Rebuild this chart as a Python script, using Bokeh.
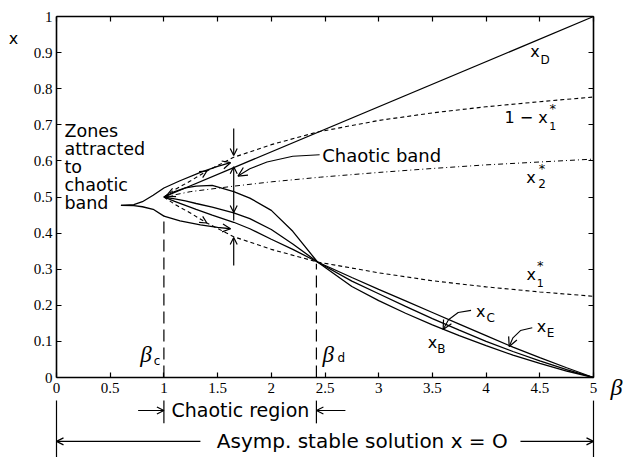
from bokeh.plotting import figure
from bokeh.models import Range1d, LinearAxis, FixedTicker, Label, Arrow, OpenHead
from bokeh.embed import file_html
from bokeh.resources import INLINE

# ---------------- data ----------------
x_ticks = [0, 0.5, 1, 1.5, 2, 2.5, 3, 3.5, 4, 4.5, 5]
x_tick_labels = ["0", "0.5", "1", "1.5", "2", "2.5", "3", "3.5", "4", "4.5", "5"]
y_ticks = [0, 0.1, 0.2, 0.3, 0.4, 0.5, 0.6, 0.7, 0.8, 0.9, 1.0]
y_tick_labels = ["0", "0.1", "0.2", "0.3", "0.4", "0.5", "0.6", "0.7", "0.8", "0.9", "1"]

beta_D = [1.0, 5.0]
x_D = [0.5, 1.0]

beta_star = [1.0, 1.1, 1.25, 1.4, 1.65, 2.0, 2.43, 3.0, 3.5, 4.0, 4.5, 5.0]
one_minus_x1 = [0.5, 0.52, 0.545, 0.572, 0.61, 0.645, 0.68, 0.712, 0.733, 0.75, 0.764, 0.777]
x1_star = [0.5, 0.48, 0.455, 0.428, 0.39, 0.355, 0.32, 0.29, 0.268, 0.251, 0.237, 0.225]

beta_x2 = [1.0, 1.25, 1.65, 2.0, 2.46, 3.0, 3.5, 4.0, 4.5, 5.0]
x2_star = [0.5, 0.515, 0.53, 0.542, 0.555, 0.568, 0.579, 0.589, 0.597, 0.605]

beta_BCE = [1.0, 1.1, 1.2, 1.3, 1.45, 1.65, 1.8, 2.0, 2.2, 2.43,
            2.75, 3.0, 3.25, 3.5, 3.75, 4.0, 4.25, 4.5, 4.75, 5.0]
x_B = [0.5, 0.515, 0.525, 0.53, 0.532, 0.515, 0.497, 0.463, 0.405, 0.32,
       0.252, 0.213, 0.178, 0.146, 0.116, 0.088, 0.062, 0.039, 0.018, 0.0]
x_C = [0.5, 0.495, 0.489, 0.482, 0.472, 0.456, 0.44, 0.41, 0.37, 0.32,
       0.267, 0.232, 0.197, 0.163, 0.131, 0.1, 0.072, 0.046, 0.022, 0.0]
x_E = [0.5, 0.488, 0.477, 0.466, 0.45, 0.43, 0.412, 0.383, 0.355, 0.32,
       0.277, 0.244, 0.212, 0.18, 0.148, 0.116, 0.084, 0.055, 0.027, 0.0]

beta_zone = [0.6, 0.72, 0.8, 0.9, 1.0, 1.15, 1.34, 1.5, 1.62]
zone_upper = [0.477, 0.479, 0.487, 0.505, 0.525, 0.545, 0.568, 0.585, 0.595]
zone_lower = [0.477, 0.476, 0.473, 0.466, 0.447, 0.434, 0.423, 0.416, 0.412]

beta_c = 1.0
beta_d = 2.42
beta_c_top = 0.45
beta_d_top = 0.315

band_beta = 1.65
band_top_arrow = [0.69, 0.615]
band_double = [0.435, 0.584]
band_inner_arrow = [0.5, 0.457]
band_bottom_arrow = [0.31, 0.388]

leader_band_beta = [2.45, 2.2, 1.96, 1.8, 1.69]
leader_band_x = [0.617, 0.613, 0.597, 0.578, 0.558]
leader_C_beta = [3.86, 3.74, 3.65, 3.6]
leader_C_x = [0.186, 0.18, 0.16, 0.133]
leader_E_beta = [4.43, 4.32, 4.25, 4.215]
leader_E_x = [0.138, 0.13, 0.11, 0.086]

# levels of the bracket rows below the axis (data units of x)
row_top = -0.064
row1_bottom = -0.127
row1_y = -0.0914
row2_y = -0.177
row2_bottom = -0.23

INK = "black"
SANS = "DejaVu Sans"
SERIF = "Liberation Serif"

# whole canvas is the frame; axes are pinned with fixed_location
p = figure(width=623, height=457, output_backend="svg", toolbar_location=None,
           x_range=Range1d(-56 / 107.4, 5 + 30 / 107.4),
           y_range=Range1d(-80 / 361, 1 + 16 / 361),
           min_border=0, x_axis_location=None, y_axis_location=None)
p.grid.visible = False
p.outline_line_color = None
p.background_fill_color = "white"
p.border_fill_color = "white"

def make_axis(ticks, labels, show_labels, loc, bounds):
    ax = LinearAxis(ticker=FixedTicker(ticks=ticks), fixed_location=loc, bounds=bounds)
    ax.major_label_overrides = {t: (l if show_labels else "") for t, l in zip(ticks, labels)}
    ax.major_tick_in = 5
    ax.major_tick_out = 0
    ax.minor_tick_in = 0
    ax.minor_tick_out = 0
    ax.axis_line_color = INK
    ax.axis_line_width = 1.6
    ax.major_tick_line_color = INK
    ax.major_tick_line_width = 1.2
    ax.major_label_text_font = SERIF
    ax.major_label_text_font_size = "15px"
    ax.major_label_text_color = INK
    return ax

bx = make_axis(x_ticks, x_tick_labels, True, 0, (0, 5))
bx.major_label_standoff = 5
p.add_layout(bx, "below")
ly = make_axis(y_ticks, y_tick_labels, True, 0, (0, 1))
ly.major_label_standoff = 4
p.add_layout(ly, "left")
p.add_layout(make_axis(x_ticks, x_tick_labels, False, 1, (0, 5)), "above")
p.add_layout(make_axis(y_ticks, y_tick_labels, False, 5, (0, 1)), "right")

LW = 1.3
# curves
p.line(beta_D, x_D, line_color=INK, line_width=LW)
p.line(beta_star, one_minus_x1, line_color=INK, line_width=1.1, line_dash="4 3")
p.line(beta_star, x1_star, line_color=INK, line_width=1.1, line_dash="4 3")
p.line(beta_x2, x2_star, line_color=INK, line_width=1.0, line_dash="5 3 1 3")
p.line(beta_BCE, x_B, line_color=INK, line_width=LW)
p.line(beta_BCE, x_C, line_color=INK, line_width=LW)
p.line(beta_BCE, x_E, line_color=INK, line_width=LW)
p.line(beta_zone, zone_upper, line_color=INK, line_width=LW)
p.line(beta_zone, zone_lower, line_color=INK, line_width=LW)

# vertical dashed markers
p.line([beta_c, beta_c], [0, beta_c_top], line_color=INK, line_width=1.2, line_dash="12 6")
p.line([beta_d, beta_d], [0, beta_d_top], line_color=INK, line_width=1.2, line_dash="12 6")

# leaders
p.line(leader_band_beta, leader_band_x, line_color=INK, line_width=1.1)
p.line(leader_C_beta, leader_C_x, line_color=INK, line_width=1.1)
p.line(leader_E_beta, leader_E_x, line_color=INK, line_width=1.1)

def head(size=8):
    return OpenHead(size=size, line_color=INK, line_width=1.2)

def arrow(x0, y0, x1, y1, end=True, start=False, body=True, size=8):
    a = Arrow(x_start=x0, y_start=y0, x_end=x1, y_end=y1,
              end=head(size) if end else None,
              start=head(size) if start else None,
              line_color=INK, line_width=1.2, line_alpha=1.0 if body else 0.0)
    p.add_layout(a)

# leader arrowheads
arrow(leader_band_beta[-2], leader_band_x[-2], leader_band_beta[-1], leader_band_x[-1], body=False, size=9)
arrow(leader_C_beta[-2], leader_C_x[-2], leader_C_beta[-1], leader_C_x[-1], body=False, size=9)
arrow(leader_E_beta[-2], leader_E_x[-2], leader_E_beta[-1], leader_E_x[-1], body=False, size=9)

# arrowheads along zone curves and dashed curves
arrow(beta_zone[-2], zone_upper[-2], beta_zone[-1], zone_upper[-1], body=False, size=8)
arrow(beta_zone[-2], zone_lower[-2], beta_zone[-1], zone_lower[-1], body=False, size=8)
arrow(beta_star[2], one_minus_x1[2], beta_star[3], one_minus_x1[3], body=False, size=7)
arrow(beta_star[2], x1_star[2], beta_star[3], x1_star[3], body=False, size=7)
arrow(1.15, 0.519, beta_D[0] + 0.02, x_D[0] + 0.0025, body=False, size=9)

# chaotic band vertical arrows
arrow(band_beta, band_top_arrow[0], band_beta, band_top_arrow[1], size=7)
arrow(band_beta, band_double[0], band_beta, band_double[1], size=7)
arrow(band_beta, band_inner_arrow[0], band_beta, band_inner_arrow[1], body=False, size=7)
arrow(band_beta, band_bottom_arrow[0], band_beta, band_bottom_arrow[1], size=7)

# below-axis brackets
arrow(beta_c, row_top, beta_c, row1_bottom, end=False)
arrow(beta_d, row_top, beta_d, row1_bottom, end=False)
arrow(0, row_top, 0, row2_bottom, end=False)
arrow(5, row_top, 5, row2_bottom, end=False)
arrow(0.76, row1_y, beta_c, row1_y, size=7)
arrow(2.69, row1_y, beta_d, row1_y, size=7)
arrow(1.34, row2_y, 0, row2_y, size=7)
arrow(4.32, row2_y, 5, row2_y, size=7)

def label(x, y, text, size="17px", font=SANS, align="left", baseline="middle",
          style="normal", xo=0, yo=0):
    p.add_layout(Label(x=x, y=y, text=text, text_font=font, text_font_size=size,
                       text_align=align, text_baseline=baseline, text_color=INK,
                       text_font_style=style, x_offset=xo, y_offset=yo))

# curve labels (main symbol + sub/superscripts offset in screen px)
label(4.456, 0.902, "x", size="16px", align="center")
label(4.456, 0.902, "D", size="12px", align="center", xo=10, yo=-8)

label(4.573, 0.721, "1 \u2212 x", size="16px", align="right")
label(4.573, 0.721, "1", size="11px", align="center", xo=5, yo=-9)
label(4.573, 0.721, "*", size="13px", align="center", xo=5, yo=9)

label(4.419, 0.555, "x", size="16px", align="center")
label(4.419, 0.555, "2", size="12px", align="center", xo=11, yo=-6)
label(4.419, 0.555, "*", size="13px", align="center", xo=11, yo=9)

label(4.42, 0.285, "x", size="16px", align="center")
label(4.42, 0.285, "1", size="11px", align="center", xo=9, yo=-8)
label(4.42, 0.285, "*", size="13px", align="center", xo=9, yo=9)

label(3.95, 0.182, "x", size="16px", align="center")
label(3.95, 0.182, "C", size="12px", align="center", xo=10, yo=-6)
label(4.516, 0.14, "x", size="16px", align="center")
label(4.516, 0.14, "E", size="12px", align="center", xo=9, yo=-6)
label(3.5, 0.096, "x", size="16px", align="center")
label(3.5, 0.096, "B", size="12px", align="center", xo=9, yo=-6)

# beta labels
label(0.833, 0.063, "\u03b2", size="23px", font=SERIF, align="center", style="italic")
label(0.833, 0.063, "c", size="12px", align="center", xo=11, yo=-6)
label(2.53, 0.063, "\u03b2", size="23px", font=SERIF, align="center", style="italic")
label(2.53, 0.063, "d", size="12px", align="center", xo=13, yo=-3)
label(5.214, -0.025, "\u03b2", size="24px", font=SERIF, align="center", style="italic")
label(-0.4, 0.94, "x", size="16px", align="center")

# text annotations
zones_lines = ["Zones", "attracted", "to", "chaotic", "band"]
zones_y = [0.682, 0.632, 0.583, 0.533, 0.483]
for t, yy in zip(zones_lines, zones_y):
    label(0.074, yy, t, size="17.5px")
label(2.474, 0.615, "Chaotic band", size="18px")
label(1.712, row1_y, "Chaotic region", size="19px", align="center")
label(2.847, row2_y, "Asymp. stable solution x = O", size="20px", align="center")

open("out.html", "w").write(file_html(p, INLINE))
